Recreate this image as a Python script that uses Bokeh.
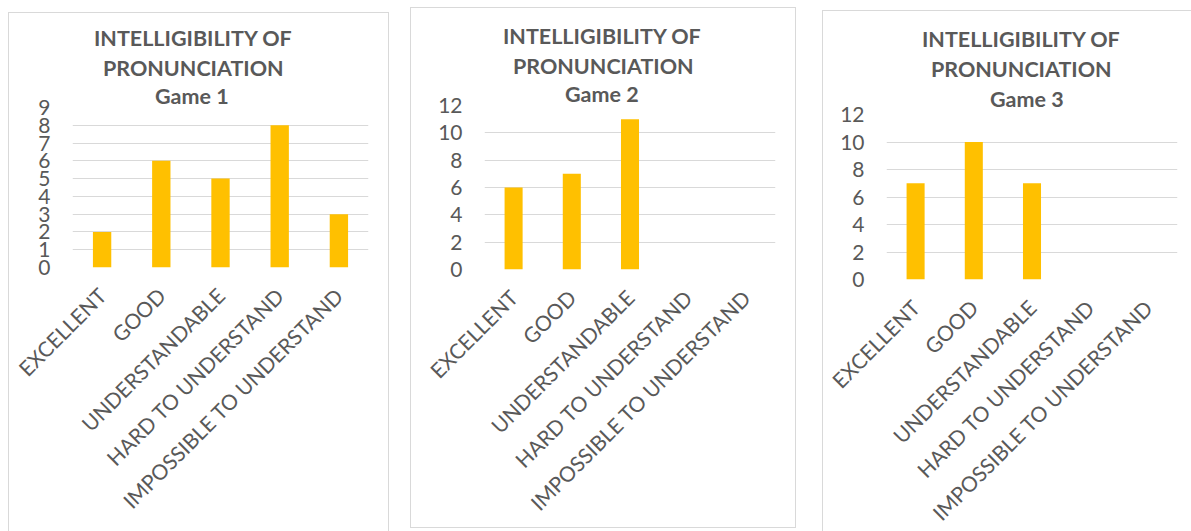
import math
from bokeh.plotting import figure
from bokeh.models import Spacer, FixedTicker, ColumnDataSource, Title
from bokeh.layouts import row, column
from bokeh.embed import file_html
from bokeh.resources import INLINE

categories = ["EXCELLENT", "GOOD", "UNDERSTANDABLE", "HARD TO UNDERSTAND", "IMPOSSIBLE TO UNDERSTAND"]
game1 = [2, 6, 5, 8, 3]
game2 = [6, 7, 11, 0, 0]
game3 = [7, 10, 7, 0, 0]
title_lines = ["INTELLIGIBILITY OF", "PRONUNCIATION"]
game_names = ["Game 1", "Game 2", "Game 3"]
ticks1 = list(range(0, 10))
ticks23 = [0, 2, 4, 6, 8, 10, 12]

FONT = "Lato"
TXT = "#595959"
GRID = "#d9d9d9"
BAR = "#FFC000"


def make_panel(values, ticks, ymax, game, fw, fh, left, right, top, bottom, border,
               offsets, game_standoff):
    p = figure(x_range=categories, y_range=(0, ymax), frame_width=fw, frame_height=fh,
               min_border_left=left, min_border_right=right, min_border_top=top,
               min_border_bottom=bottom, output_backend="svg", toolbar_location=None,
               background_fill_color="white", border_fill_color="white")
    src = ColumnDataSource(dict(cat=categories, val=values))
    p.vbar(x="cat", top="val", width=0.31, fill_color=BAR, line_color=None, source=src)
    p.outline_line_color = None
    p.xgrid.grid_line_color = None
    p.ygrid.grid_line_color = GRID
    p.ygrid.grid_line_width = 1
    p.yaxis.ticker = FixedTicker(ticks=ticks)
    for ax in (p.xaxis[0], p.yaxis[0]):
        ax.axis_line_color = None
        ax.major_tick_line_color = None
        ax.minor_tick_line_color = None
        ax.major_tick_out = 0
        ax.minor_tick_out = 0
        ax.major_label_text_font = FONT
        ax.major_label_text_color = TXT
        ax.major_label_text_font_size = "21px"
    p.yaxis.major_label_standoff = 22
    p.xaxis.major_label_standoff = 24
    p.xaxis.major_label_orientation = math.pi / 4
    # titles stack upward from the frame: the first added is the lowest line
    lines = [game] + title_lines[::-1]
    offs = [offsets[2], offsets[1], offsets[0]]
    stands = [game_standoff, 2, 2]
    for t, o, s in zip(lines, offs, stands):
        p.add_layout(Title(text=t, align="left", offset=o, standoff=s, text_font=FONT,
                           text_font_size="21.5px", text_font_style="bold",
                           text_color=TXT), "above")
    p.title.visible = False
    p.styles = border
    return p


p1 = make_panel(game1, ticks1, 9, game_names[0], 294, 159, 63, 22, 94, 265,
                {"border-left": f"1px solid {GRID}", "border-right": f"1px solid {GRID}",
                 "border-top": f"1px solid {GRID}"},
                [21.5, 30.5, 82.5], -2)
p2 = make_panel(game2, ticks23, 12, game_names[1], 289, 162, 73, 22, 97, 260,
                {"border": f"1px solid {GRID}"},
                [18.5, 28.5, 80.5], -2.5)
p3 = make_panel(game3, ticks23, 12, game_names[2], 290, 164, 63, 15, 103, 253,
                {"border-left": f"1px solid {GRID}", "border-top": f"1px solid {GRID}"},
                [35.5, 44.5, 103.5], 4.4)

layout = row(Spacer(width=8), column(Spacer(height=12), p1), Spacer(width=21),
             column(Spacer(height=7), p2), Spacer(width=26),
             column(Spacer(height=10), p3))

open("out.html", "w").write(file_html(layout, INLINE))
